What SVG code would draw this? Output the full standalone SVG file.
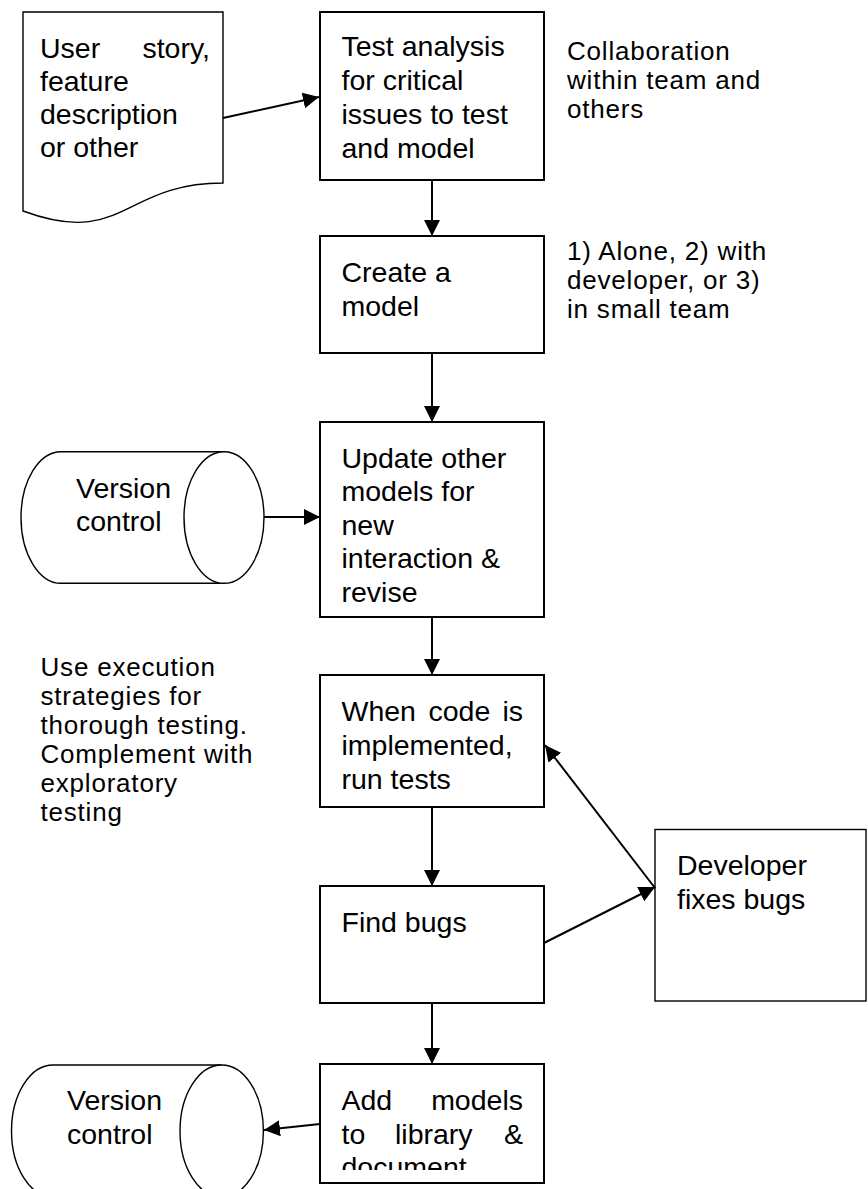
<svg xmlns="http://www.w3.org/2000/svg" width="868" height="1189" viewBox="0 0 868 1189">
<style>
.box{fill:#fff;stroke:#000;stroke-width:2}
.thin{fill:#fff;stroke:#000;stroke-width:1.4}
.t{font-family:"Liberation Sans",Arial,sans-serif;font-size:28.5px;fill:#000}
.n{font-family:"Liberation Sans",Arial,sans-serif;font-size:26px;letter-spacing:0.8px;fill:#000}
.c{fill:none;stroke:#000;stroke-width:2}
</style>
<defs>
<marker id="ah" markerUnits="userSpaceOnUse" markerWidth="17" markerHeight="17" refX="16" refY="8" orient="auto">
<path d="M0,0 L16,8 L0,16 Z" fill="#000"/>
</marker>
<clipPath id="clip6"><rect x="320" y="1064" width="224" height="106"/></clipPath>
</defs>
<rect width="868" height="1189" fill="#fff"/>

<g id="doc">
<path class="thin" d="M23,12 H223 V183 C123,183 123,248 23,211 Z" stroke-width="1.6"/>
<text class="t" x="40" y="58">User</text>
<text class="t" x="210" y="58" text-anchor="end">story,</text>
<text class="t" x="40" y="91">feature</text>
<text class="t" x="40" y="124">description</text>
<text class="t" x="40" y="157">or other</text>
</g>

<g id="analysis">
<rect class="box" x="320" y="12" width="224" height="168"/>
<text class="t" x="341.5" y="56">Test analysis</text>
<text class="t" x="341.5" y="90">for critical</text>
<text class="t" x="341.5" y="124">issues to test</text>
<text class="t" x="341.5" y="158">and model</text>
</g>

<g id="note1">
<text class="n" x="567" y="60">Collaboration</text>
<text class="n" x="567" y="89">within team and</text>
<text class="n" x="567" y="118">others</text>
</g>

<g id="model">
<rect class="box" x="320" y="236" width="224" height="117"/>
<text class="t" x="341.5" y="282">Create a</text>
<text class="t" x="341.5" y="316">model</text>
</g>

<g id="note2">
<text class="n" x="567" y="260">1) Alone, 2) with</text>
<text class="n" x="567" y="289">developer, or 3)</text>
<text class="n" x="567" y="318">in small team</text>
</g>

<g id="vc1">
<path class="thin" d="M224,451.7 H61 A40,65.8 0 0 0 61,583.3 H224"/>
<ellipse class="thin" cx="224" cy="517.5" rx="40" ry="65.8"/>
<text class="t" x="76" y="498">Version</text>
<text class="t" x="76" y="531">control</text>
</g>

<g id="update">
<rect class="box" x="320" y="422" width="224" height="195"/>
<text class="t" x="341.5" y="468">Update other</text>
<text class="t" x="341.5" y="501">models for</text>
<text class="t" x="341.5" y="534.5">new</text>
<text class="t" x="341.5" y="568">interaction &amp;</text>
<text class="t" x="341.5" y="602">revise</text>
</g>

<g id="note3">
<text class="n" x="40.5" y="676">Use execution</text>
<text class="n" x="40.5" y="705">strategies for</text>
<text class="n" x="40.5" y="734">thorough testing.</text>
<text class="n" x="40.5" y="763">Complement with</text>
<text class="n" x="40.5" y="792">exploratory</text>
<text class="n" x="40.5" y="821">testing</text>
</g>

<g id="run">
<rect class="box" x="320" y="675" width="224" height="132"/>
<text class="t" x="341.5" y="721">When</text>
<text class="t" x="428.5" y="721">code</text>
<text class="t" x="523" y="721" text-anchor="end">is</text>
<text class="t" x="341.5" y="755">implemented,</text>
<text class="t" x="341.5" y="788.5">run tests</text>
</g>

<g id="dev">
<rect class="thin" x="655" y="829.5" width="211" height="171.5" stroke-width="1.6"/>
<text class="t" x="677" y="875">Developer</text>
<text class="t" x="677" y="909">fixes bugs</text>
</g>

<g id="find">
<rect class="box" x="320" y="886" width="224" height="117"/>
<text class="t" x="341.5" y="932">Find bugs</text>
</g>

<g id="add">
<rect class="box" x="320" y="1064" width="224" height="119"/>
<g clip-path="url(#clip6)">
<text class="t" x="341.5" y="1110">Add</text>
<text class="t" x="523" y="1110" text-anchor="end">models</text>
<text class="t" x="341.5" y="1143.5">to</text>
<text class="t" x="395" y="1143.5">library</text>
<text class="t" x="523" y="1143.5" text-anchor="end">&amp;</text>
<text class="t" x="341.5" y="1176.5">document</text>
</g>
</g>

<g id="vc2">
<path class="thin" d="M221.7,1065 H53 A41.5,66 0 0 0 53,1197 H221.7"/>
<ellipse class="thin" cx="221.7" cy="1131" rx="41.7" ry="66"/>
<text class="t" x="67" y="1110">Version</text>
<text class="t" x="67" y="1143.5">control</text>
</g>

<g id="connectors">
<line class="c" x1="223" y1="118" x2="319" y2="97" marker-end="url(#ah)"/>
<line class="c" x1="432" y1="180" x2="432" y2="236" marker-end="url(#ah)"/>
<line class="c" x1="432" y1="353" x2="432" y2="422" marker-end="url(#ah)"/>
<line class="c" x1="264" y1="517" x2="320" y2="517" marker-end="url(#ah)"/>
<line class="c" x1="432" y1="617" x2="432" y2="675" marker-end="url(#ah)"/>
<line class="c" x1="432" y1="807" x2="432" y2="886" marker-end="url(#ah)"/>
<line class="c" x1="655" y1="888" x2="545" y2="745" marker-end="url(#ah)"/>
<line class="c" x1="544" y1="943" x2="655" y2="887" marker-end="url(#ah)"/>
<line class="c" x1="432" y1="1003" x2="432" y2="1064" marker-end="url(#ah)"/>
<line class="c" x1="320" y1="1124" x2="264" y2="1130" marker-end="url(#ah)"/>
</g>
</svg>
